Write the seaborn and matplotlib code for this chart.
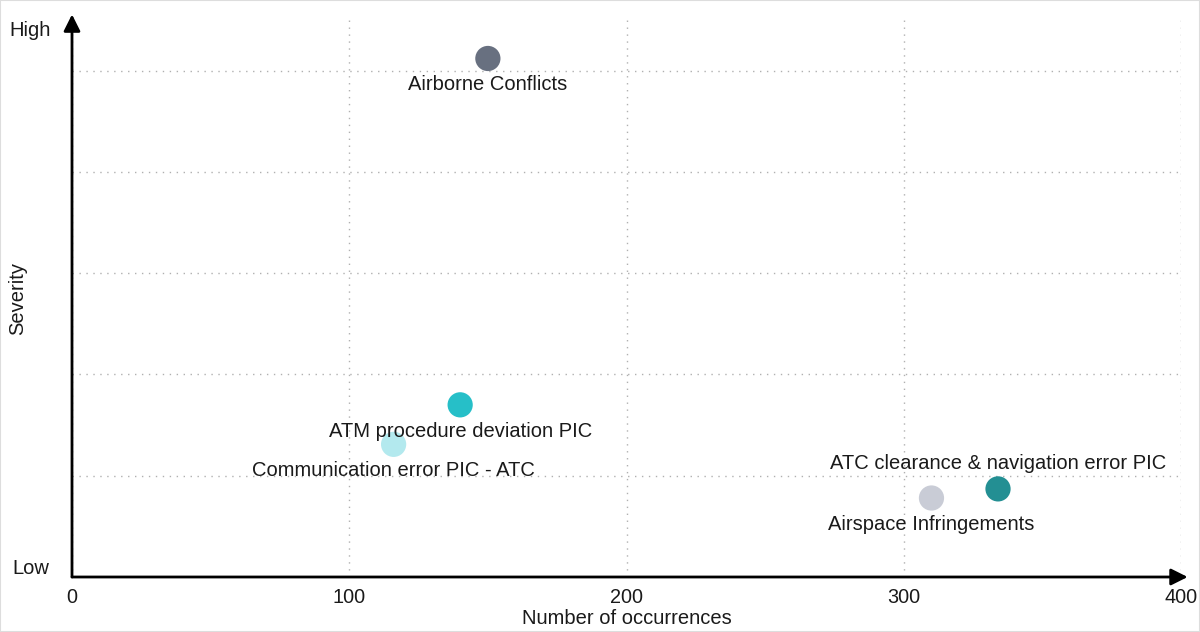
import pandas as pd
import matplotlib.pyplot as plt
import seaborn as sns
from matplotlib.patches import Rectangle

# data
categories = ['Airborne Conflicts', 'ATM procedure deviation PIC',
              'Communication error PIC - ATC', 'ATC clearance & navigation error PIC',
              'Airspace Infringements']
occurrences = [150, 140, 116, 334, 310]
severity = [5.12, 1.70, 1.31, 0.87, 0.78]
colors = ['#687080', '#26bfc8', '#b3e9ee', '#238f93', '#c9ccd6']
label_above = [False, False, False, True, False]

data = pd.DataFrame({'category': categories, 'occurrences': occurrences, 'severity': severity})

sns.set_style('white')
plt.rcParams['font.family'] = ['Liberation Sans', 'DejaVu Sans']

fig = plt.figure(figsize=(12, 6.32), dpi=100)
ax = fig.add_axes([72 / 1200, 1 - 577 / 632, (1181 - 72) / 1200, (577 - 20) / 632])

sns.scatterplot(data=data, x='occurrences', y='severity', hue='category',
                palette=dict(zip(categories, colors)), s=330, linewidth=0,
                legend=False, ax=ax, zorder=3)

ax.set_xlim(0, 400)
ax.set_ylim(0, 5.5)
ax.set_xticks([0, 100, 200, 300, 400])
ax.set_yticks([1, 2, 3, 4, 5])
ax.set_yticklabels([])
ax.tick_params(axis='both', length=0, labelsize=14.3, colors='#1a1a1a', pad=8)
ax.grid(True, color='#b0b0b0', linestyle=(0, (1, 4)), linewidth=1)
for sp in ax.spines.values():
    sp.set_visible(False)

# axis arrows
arrow = dict(arrowstyle='-|>,head_length=1.0,head_width=0.5', color='black', lw=2, shrinkA=0, shrinkB=0)
ax.annotate('', xy=(1.006, 0), xytext=(0, 0), xycoords='axes fraction', arrowprops=arrow)
ax.annotate('', xy=(0, 1.01), xytext=(0, 0), xycoords='axes fraction', arrowprops=arrow)

ax.set_xlabel('Number of occurrences', fontsize=14.5, color='#1a1a1a', labelpad=1)
ax.set_ylabel('')
fig.text(18 / 1200, 1 - 298 / 632, 'Severity', rotation=90, ha='center', va='center',
         fontsize=14.5, color='#1a1a1a')
fig.text(30 / 1200, 1 - 31 / 632, 'High', ha='center', va='center', fontsize=14.5, color='#1a1a1a')
fig.text(31 / 1200, 1 - 568 / 632, 'Low', ha='center', va='center', fontsize=14.5, color='#1a1a1a')

# point labels
for name, x, y, up in zip(categories, occurrences, severity, label_above):
    off = 18 if up else -19
    ax.annotate(name, (x, y), xytext=(0, off), textcoords='offset points',
                ha='center', va='center', fontsize=14.5, color='#1a1a1a', zorder=4)

fig.patches.append(Rectangle((0, 0), 1, 1, transform=fig.transFigure, fill=False,
                             edgecolor='#dddddd', linewidth=1.5))

fig.savefig('out.png', dpi=100)
